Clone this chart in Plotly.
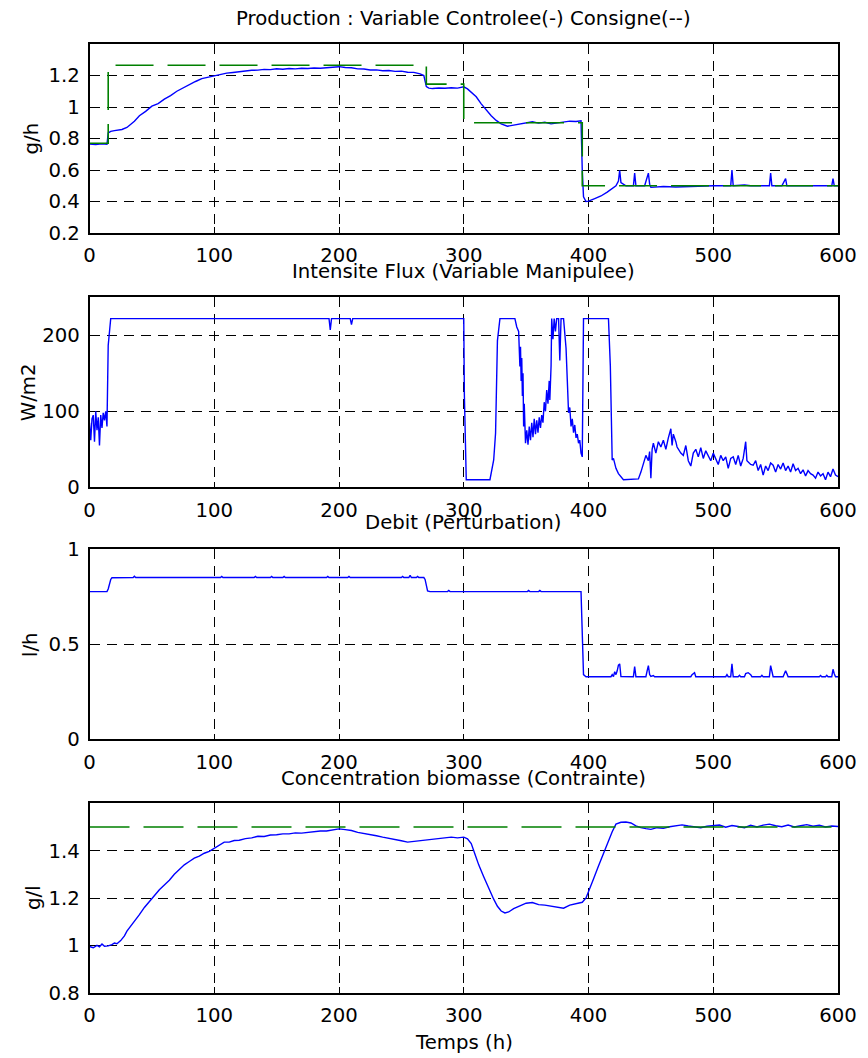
import plotly.graph_objects as go

# ---------------- data ----------------
# Panel 1 : Production (g/h)
prod_t = [0, 5, 10, 14, 15, 17, 20, 23, 26, 30, 33, 36, 40, 45, 50, 55, 60, 65, 70, 75,
          80, 85, 90, 95, 100, 105, 110, 115, 120, 125, 130, 135, 140, 145, 150, 155,
          160, 165, 170, 175, 180, 185, 190, 195, 200, 205, 210, 215, 220, 225, 230,
          235, 240, 245, 250, 255, 260, 265, 268, 270, 272, 275, 280, 285, 290, 295,
          300, 303, 306, 310, 314, 318, 322, 326, 330, 335, 340, 345, 350, 355, 360,
          365, 370, 375, 380, 385, 390, 394, 395, 396, 398, 400, 405, 410, 415, 420,
          422, 424, 425, 426, 430, 436, 437, 438, 445, 448, 449, 450, 460, 470, 480,
          490, 500, 510, 514, 515, 516, 525, 530, 540, 545, 546, 547, 555, 558, 559,
          570, 580, 590, 595, 596, 597, 600]
prod_v = [0.765, 0.761, 0.766, 0.763, 0.835, 0.845, 0.85, 0.853, 0.857, 0.87, 0.89, 0.91,
          0.945, 0.972, 1.005, 1.022, 1.05, 1.072, 1.1, 1.122, 1.145, 1.162, 1.18, 1.188,
          1.2, 1.206, 1.215, 1.219, 1.225, 1.228, 1.233, 1.234, 1.239, 1.237, 1.243,
          1.24, 1.244, 1.242, 1.246, 1.244, 1.248, 1.246, 1.25, 1.252, 1.256, 1.251,
          1.249, 1.242, 1.241, 1.235, 1.236, 1.23, 1.232, 1.226, 1.228, 1.221, 1.22,
          1.21, 1.2, 1.13, 1.12, 1.117, 1.121, 1.119, 1.122, 1.12, 1.128, 1.115, 1.095,
          1.065, 1.02, 0.98, 0.945, 0.915, 0.893, 0.878, 0.886, 0.893, 0.901, 0.906,
          0.898, 0.903, 0.893, 0.899, 0.906, 0.91, 0.908, 0.912, 0.6, 0.43, 0.4, 0.402,
          0.418, 0.435, 0.46, 0.485, 0.5, 0.53, 0.598, 0.52, 0.5, 0.5, 0.58, 0.5, 0.5,
          0.58, 0.51, 0.49, 0.495, 0.492, 0.496, 0.498, 0.5, 0.5, 0.5, 0.6, 0.5, 0.505,
          0.5, 0.5, 0.5, 0.58, 0.5, 0.5, 0.545, 0.5, 0.5, 0.5, 0.5, 0.5, 0.545, 0.5,
          0.5]
cons_t = [0, 15, 270, 300, 395, 600]
cons_v = [0.77, 1.265, 1.145, 0.9, 0.5, 0.5]

# Panel 2 : Intensite flux (W/m2)
flux_t = [0, 1, 2, 3, 4, 5, 6, 7, 8, 9, 10, 11, 12, 13, 14, 15, 17, 192, 193, 194,
          209, 210, 211, 300, 300.5, 302, 321, 323, 324, 325.5, 327, 329, 341, 342.5,
          344, 345, 345.5, 346, 346.5, 347, 347.5, 348, 348.5, 349.5, 350.5, 351.5,
          352.5, 353.5, 354.5, 355.5, 356.5, 357.5, 358.5, 359.5, 360.5, 361.5, 362.5,
          363.5, 364.5, 365.5, 366.5, 367.5, 368.5, 369, 370, 370.5, 371.5, 372.5,
          373.5, 374.5, 376, 377, 378, 380, 381, 382, 383, 384, 385, 386, 387, 388,
          389, 390, 391, 392, 393, 394, 395, 396, 416, 417.5, 419, 420, 422, 424, 428,
          440, 442, 444, 446, 448, 449, 450, 451, 452, 454, 456, 458, 460, 462, 464,
          466, 467, 468, 470, 471, 474, 476, 478, 480, 482, 484, 486, 488, 490, 492,
          494, 496, 498, 500, 502, 504, 506, 508, 510, 512, 514, 516, 518, 520, 522,
          524, 526, 527, 530, 532, 534, 536, 538, 540, 542, 544, 546, 548, 550, 552,
          554, 556, 558, 560, 562, 564, 566, 568, 570, 572, 574, 576, 578, 580, 582,
          584, 586, 588, 590, 592, 594, 596, 598, 600]
flux_v = [85, 62, 90, 95, 60, 100, 75, 92, 55, 95, 78, 98, 88, 100, 80, 187, 222, 222,
          207, 222, 222, 214, 222, 222, 122, 10, 10, 25, 36, 71, 193, 222, 222, 211, 205,
          159, 185, 140, 170, 120, 150, 80, 110, 58, 75, 56, 80, 62, 85, 66, 90, 70, 88,
          72, 92, 78, 95, 85, 112, 100, 128, 110, 140, 115, 160, 222, 195, 222, 205, 222,
          222, 167, 222, 222, 203, 183, 141, 98, 105, 80, 90, 72, 82, 65, 70, 58, 62, 45,
          40, 222, 222, 160, 36, 38, 25, 18, 10, 11, 20, 30, 42, 35, 47, 12, 50, 58, 45,
          60, 53, 62, 50, 65, 77, 55, 70, 60, 53, 45, 42, 55, 35, 28, 45, 50, 40, 52, 38,
          48, 42, 35, 45, 38, 30, 42, 35, 40, 25, 38, 40, 30, 42, 28, 38, 60, 35, 30, 29,
          35, 22, 30, 16, 28, 22, 32, 29, 20, 30, 24, 32, 22, 28, 20, 31, 22, 25, 18, 23,
          15, 22, 18, 16, 12, 20, 15, 18, 10, 20, 14, 24, 16, 14]

# Panel 3 : Debit (l/h)
debit_t = [0, 14, 15, 16, 17, 18, 35, 36, 37, 105, 106, 107, 132, 133, 134, 145, 146,
           147, 155, 156, 157, 190, 191, 192, 207, 208, 209, 250, 251, 252, 256, 257,
           258, 262, 263, 264, 268, 269, 270, 271, 273, 287, 288, 289, 351, 352, 353,
           360, 361, 362, 394, 395, 395.5, 396, 398, 418, 419, 420, 421, 422, 423, 424,
           425, 426, 436, 437, 438, 446, 447, 448, 449, 450, 452, 453, 482, 483, 485,
           486, 510, 511, 512, 514, 515, 516, 520, 521, 522, 525, 526, 528, 530, 531,
           538, 539, 540, 545, 546, 547, 548, 556, 557, 558, 559, 560, 585, 586, 587,
           590, 591, 592, 595, 596, 597, 598, 600]
debit_v = [0.776, 0.776, 0.79, 0.82, 0.84, 0.849, 0.85, 0.857, 0.85, 0.85, 0.856, 0.85,
           0.85, 0.856, 0.85, 0.85, 0.856, 0.85, 0.85, 0.856, 0.85, 0.85, 0.856, 0.85,
           0.85, 0.856, 0.85, 0.85, 0.856, 0.85, 0.85, 0.862, 0.85, 0.85, 0.856, 0.85,
           0.85, 0.84, 0.8, 0.78, 0.776, 0.776, 0.782, 0.776, 0.776, 0.782, 0.776,
           0.776, 0.782, 0.776, 0.776, 0.55, 0.36, 0.34, 0.329, 0.329, 0.34, 0.329,
           0.355, 0.34, 0.36, 0.39, 0.396, 0.33, 0.329, 0.382, 0.329, 0.329, 0.36,
           0.387, 0.34, 0.33, 0.335, 0.329, 0.329, 0.34, 0.35, 0.329, 0.329, 0.34,
           0.329, 0.329, 0.396, 0.329, 0.329, 0.336, 0.329, 0.329, 0.345, 0.35, 0.34,
           0.329, 0.329, 0.336, 0.329, 0.329, 0.387, 0.36, 0.329, 0.329, 0.345, 0.36,
           0.345, 0.329, 0.329, 0.335, 0.329, 0.329, 0.336, 0.329, 0.329, 0.368, 0.345,
           0.329, 0.329]

# Panel 4 : Concentration biomasse (g/l)
bio_t = [0, 3, 6, 8, 10, 12, 15, 18, 20, 22, 25, 28, 30, 33, 36, 40, 44, 48, 52, 56,
         60, 64, 68, 72, 76, 80, 84, 88, 92, 96, 100, 104, 108, 112, 116, 120, 125, 130,
         135, 140, 145, 150, 155, 160, 165, 170, 175, 180, 185, 190, 195, 200, 205, 210,
         215, 220, 225, 230, 235, 240, 245, 250, 255, 260, 265, 270, 275, 280, 285, 290,
         295, 300, 303, 306, 309, 312, 316, 320, 324, 327, 330, 333, 336, 340, 345, 350,
         355, 360, 365, 370, 375, 380, 385, 390, 395, 398, 400, 404, 408, 412, 416, 419,
         422, 426, 430, 434, 438, 442, 446, 450, 455, 460, 465, 470, 475, 480, 485, 490,
         495, 500, 505, 510, 515, 520, 525, 530, 535, 540, 545, 550, 555, 560, 565, 570,
         575, 580, 585, 590, 595, 600]
bio_v = [0.995, 0.99, 1.0, 0.994, 1.006, 0.996, 0.998, 1.003, 1.01, 1.007, 1.02, 1.04,
         1.06, 1.08, 1.1, 1.13, 1.16, 1.185, 1.21, 1.235, 1.255, 1.275, 1.3, 1.322, 1.34,
         1.354, 1.368, 1.377, 1.389, 1.397, 1.41, 1.424, 1.436, 1.436, 1.443, 1.444,
         1.451, 1.454, 1.461, 1.46, 1.466, 1.467, 1.471, 1.471, 1.475, 1.474, 1.478,
         1.479, 1.483, 1.483, 1.488, 1.492, 1.489, 1.485, 1.477, 1.473, 1.466, 1.463,
         1.457, 1.453, 1.446, 1.442, 1.436, 1.439, 1.44, 1.446, 1.449, 1.452, 1.455,
         1.457, 1.454, 1.457, 1.45, 1.43, 1.385, 1.34, 1.29, 1.24, 1.195, 1.165, 1.145,
         1.137, 1.141, 1.155, 1.166, 1.178, 1.181, 1.172, 1.17, 1.166, 1.16, 1.157, 1.17,
         1.177, 1.182, 1.2, 1.225, 1.28, 1.335, 1.39, 1.44, 1.48, 1.512, 1.52, 1.521,
         1.517, 1.505, 1.497, 1.493, 1.49, 1.497, 1.494, 1.501, 1.505, 1.509, 1.504,
         1.5, 1.497, 1.503, 1.505, 1.508, 1.499, 1.506, 1.502, 1.497, 1.507, 1.5, 1.508,
         1.512, 1.505, 1.501, 1.508, 1.5, 1.505, 1.51, 1.503, 1.507, 1.5, 1.504, 1.502]
bio_max_t = [0, 600]
bio_max_v = [1.5, 1.5]

x_ticks = [0, 100, 200, 300, 400, 500, 600]
y1_ticks = [0.2, 0.4, 0.6, 0.8, 1.0, 1.2]
y1_labels = ["0.2", "0.4", "0.6", "0.8", "1", "1.2"]
y2_ticks = [0, 100, 200]
y3_ticks = [0, 0.5, 1]
y3_labels = ["0", "0.5", "1"]
y4_ticks = [0.8, 1.0, 1.2, 1.4]
y4_labels = ["0.8", "1", "1.2", "1.4"]

titles = ["Production : Variable Controlee(-) Consigne(--)",
          "Intensite Flux (Variable Manipulee)",
          "Debit (Perturbation)",
          "Concentration biomasse (Contrainte)"]
ylabels = ["g/h", "W/m2", "l/h", "g/l"]
xlabel = "Temps (h)"

# ---------------- figure ----------------
W, H = 868, 1058
BLUE = "#0000ff"
GREEN = "#008000"
FONT = dict(family="DejaVu Sans, Verdana, sans-serif", size=19.7, color="#000000")


def px_x(p):
    return p / W


def px_y(p):
    return 1 - p / H


fig = go.Figure()
fig.add_trace(go.Scatter(x=prod_t, y=prod_v, mode="lines", line=dict(color=BLUE, width=1.4),
                         xaxis="x", yaxis="y"))
fig.add_trace(go.Scatter(x=cons_t, y=cons_v, mode="lines",
                         line=dict(color=GREEN, width=1.6, shape="hv", dash="38px,14px"),
                         xaxis="x", yaxis="y"))
fig.add_trace(go.Scatter(x=flux_t, y=flux_v, mode="lines", line=dict(color=BLUE, width=1.4),
                         xaxis="x2", yaxis="y2"))
fig.add_trace(go.Scatter(x=debit_t, y=debit_v, mode="lines", line=dict(color=BLUE, width=1.4),
                         xaxis="x3", yaxis="y3"))
fig.add_trace(go.Scatter(x=bio_t, y=bio_v, mode="lines", line=dict(color=BLUE, width=1.4),
                         xaxis="x4", yaxis="y4"))
fig.add_trace(go.Scatter(x=bio_max_t, y=bio_max_v, mode="lines",
                         line=dict(color=GREEN, width=1.6, dash="40px,14px"),
                         xaxis="x4", yaxis="y4"))

xdom = [px_x(89.5), px_x(838)]
ypix = [(44, 233), (297.3, 487.3), (549, 739.3), (803.3, 992.7)]
yranges = [[0.2, 1.4], [0, 250], [0, 1], [0.8, 1.6]]
yticks = [(y1_ticks, y1_labels), (y2_ticks, [str(v) for v in y2_ticks]),
          (y3_ticks, y3_labels), (y4_ticks, y4_labels)]

common = dict(showline=True, linecolor="#000000", linewidth=1.5, mirror="ticks",
              ticks="inside", ticklen=6, tickwidth=1.3, tickcolor="#000000",
              showgrid=True, gridcolor="#000000", gridwidth=1.3, griddash="10px,7px",
              zeroline=False, tickfont=FONT, automargin=False)

layout = dict(width=W, height=H,
              margin=dict(l=0, r=0, t=0, b=0, pad=0, autoexpand=False),
              paper_bgcolor="white", plot_bgcolor="white", showlegend=False,
              font=FONT)
for i in range(4):
    sx = "" if i == 0 else str(i + 1)
    top, bot = ypix[i]
    layout["xaxis" + sx] = dict(domain=xdom, range=[0, 600], tickvals=x_ticks,
                                anchor="y" + sx, ticklabelstandoff=4, **common)
    tv, tt = yticks[i]
    layout["yaxis" + sx] = dict(domain=[px_y(bot), px_y(top)], range=yranges[i],
                                tickvals=tv, ticktext=tt, anchor="x" + sx,
                                ticklabelstandoff=4, **common)
fig.update_layout(**layout)

xc = px_x((89.5 + 838) / 2)
title_py = [18, 271, 523, 778]
ylab_py = [(44 + 233) / 2, (297.3 + 487.3) / 2, 645, 898]
ylab_px = [31, 28, 30, 33]
for i in range(4):
    fig.add_annotation(text=titles[i], xref="paper", yref="paper", x=xc, y=px_y(title_py[i]),
                       xanchor="center", yanchor="middle", showarrow=False, font=FONT)
    fig.add_annotation(text=ylabels[i], xref="paper", yref="paper", x=px_x(ylab_px[i]),
                       y=px_y(ylab_py[i]), xanchor="center", yanchor="middle",
                       textangle=-90, showarrow=False, font=FONT)
fig.add_annotation(text=xlabel, xref="paper", yref="paper", x=xc, y=px_y(1042),
                   xanchor="center", yanchor="middle", showarrow=False, font=FONT)

fig.write_html("out.html")
